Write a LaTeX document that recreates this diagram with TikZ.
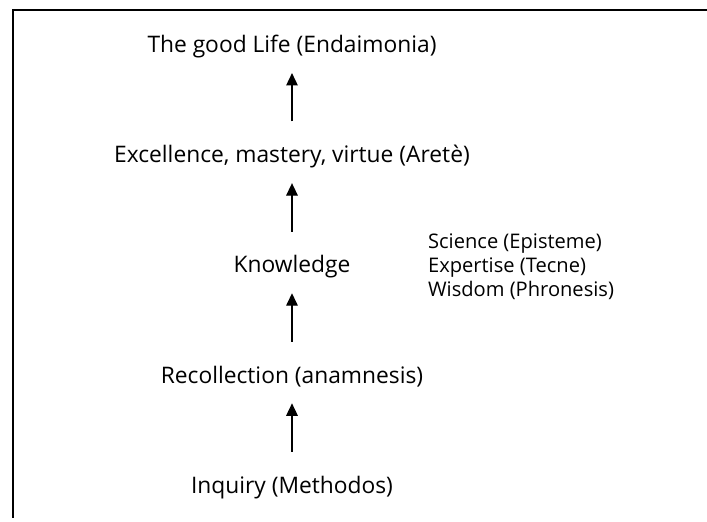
\documentclass[tikz,border=0pt]{standalone}
\usepackage{fontspec}
\setmainfont{Open Sans}
\usepackage{tikz}
\usetikzlibrary{arrows.meta,positioning}

\begin{document}
\begin{tikzpicture}[
  stage/.style={inner sep=0pt, font=\fontsize{16.2}{19}\selectfont, text height=13pt, text depth=4.3pt},
  kinds/.style={inner sep=0pt, align=left, font=\fontsize{14.3}{17}\selectfont},
  rise/.style={line width=0.75pt, -{Triangle[length=3.1mm,width=2.9mm]}, shorten <=0.57cm, shorten >=0.35cm},
  frame/.style={line width=2.1pt},
  node distance=2.13cm,
]
\useasboundingbox (-7.3,-0.85) rectangle (10.375,12.175);

% open frame, top and left side only
\draw[frame] (10.375,11.925) -- (-6.975,11.925) -- (-6.975,-0.775);

% the ladder, from inquiry up to the good life
\node[stage] (inq) at (0,0) {Inquiry (Methodos)};
\node[stage, above=of inq] (rec) {Recollection (anamnesis)};
\node[stage, above=of rec] (know) {Knowledge};
\node[stage, above=of know] (arete) {Excellence, mastery, virtue (Aretè)};
\node[stage, above=of arete] (life) {The good Life (Endaimonia)};

% kinds of knowledge beside it
\node[kinds, right=1.93cm of know] (kinds) {Science (Episteme)\\Expertise (Tecne)\\Wisdom (Phronesis)};

\foreach \a/\b in {inq/rec,rec/know,know/arete,arete/life}
  \draw[rise] (\a) -- (\b);

\end{tikzpicture}
\end{document}
